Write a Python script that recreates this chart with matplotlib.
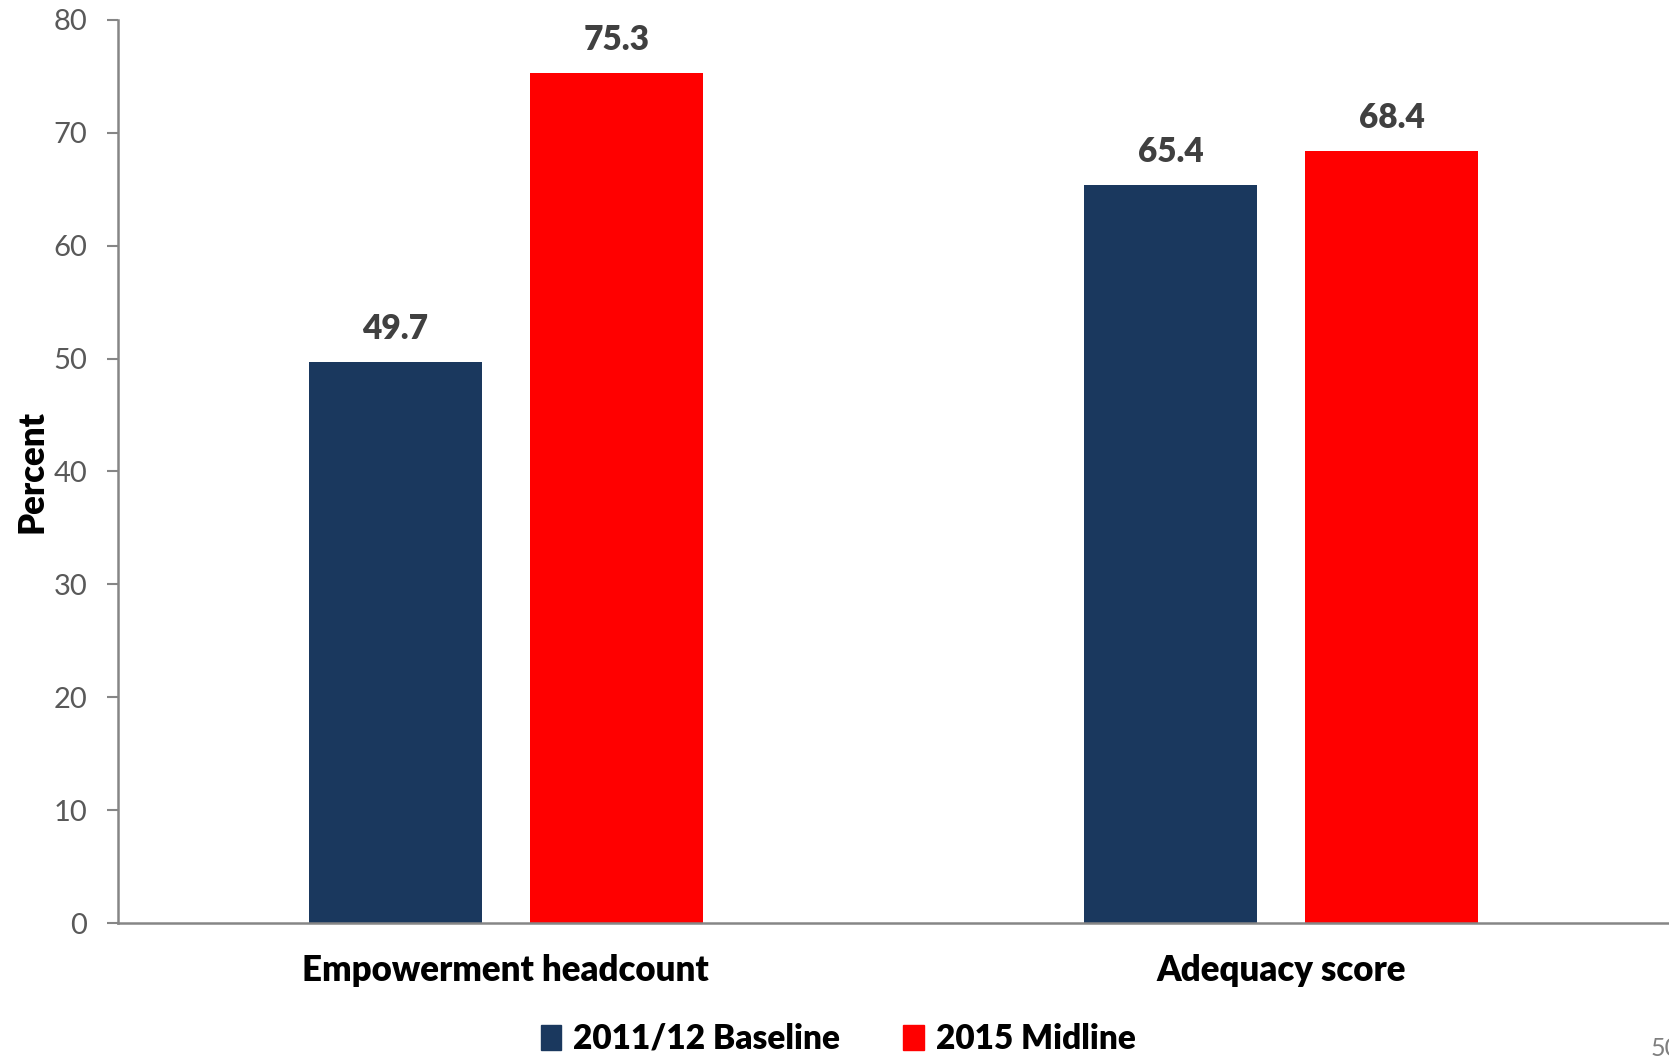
import matplotlib
matplotlib.use("Agg")
import matplotlib.pyplot as plt
from matplotlib.patches import Rectangle
import numpy as np

categories = ["Empowerment headcount", "Adequacy score"]
series_names = ["2011/12 Baseline", "2015 Midline"]
baseline = [49.7, 65.4]
midline = [75.3, 68.4]
y_ticks = [0, 10, 20, 30, 40, 50, 60, 70, 80]

colors = ["#1a385e", "#ff0000"]
FONT = ["Lato", "DejaVu Sans"]
plt.rcParams["font.family"] = FONT
HEAVY = 800

fig = plt.figure(figsize=(16.69, 10.56), dpi=100)
ax = fig.add_axes([118 / 1669, 1 - 923 / 1056, 1 - 118 / 1669, (923 - 20) / 1056])

x = np.arange(len(categories))
width = 0.2225
offset = 0.1425
for vals, off, col in ((baseline, -offset, colors[0]), (midline, offset, colors[1])):
    bars = ax.bar(x + off, vals, width, color=col, zorder=2)
    for b, v in zip(bars, vals):
        ax.annotate(f"{v:.1f}", (b.get_x() + b.get_width() / 2, v),
                    xytext=(0, 12), textcoords="offset points",
                    ha="center", va="bottom", fontsize=24, fontweight=HEAVY,
                    color="#404040")

ax.set_xlim(-0.5, 1.5)
ax.set_ylim(0, 80)
ax.set_yticks(y_ticks)
ax.set_yticklabels([str(t) for t in y_ticks], fontsize=21, color="#595959")
ax.set_xticks(x)
ax.set_xticklabels(categories, fontsize=25, fontweight=HEAVY, color="black")
ax.tick_params(axis="x", length=0, pad=22)
ax.tick_params(axis="y", length=8, width=1.5, color="#868686", pad=14, direction="out")

for side in ("top", "right"):
    ax.spines[side].set_visible(False)
for side in ("left", "bottom"):
    ax.spines[side].set_color("#868686")
    ax.spines[side].set_linewidth(1.8)

ax.set_ylabel("Percent", fontsize=25, fontweight=HEAVY, color="black")
ax.yaxis.set_label_coords(-0.045, 0.5)

handles = [Rectangle((0, 0), 1, 1, color=c) for c in colors]
fig.legend(handles, series_names, loc="center", bbox_to_anchor=(838 / 1669, 1 - 1039 / 1056),
           ncol=2, frameon=False, prop={"weight": HEAVY, "size": 24},
           handlelength=0.62, handleheight=0.75, handletextpad=0.35, columnspacing=1.9)

fig.text(1651 / 1669, 1 - 1048 / 1056, "50", fontsize=18, color="#7f7f7f",
         ha="left", va="center")

fig.savefig("out.png", dpi=100)
